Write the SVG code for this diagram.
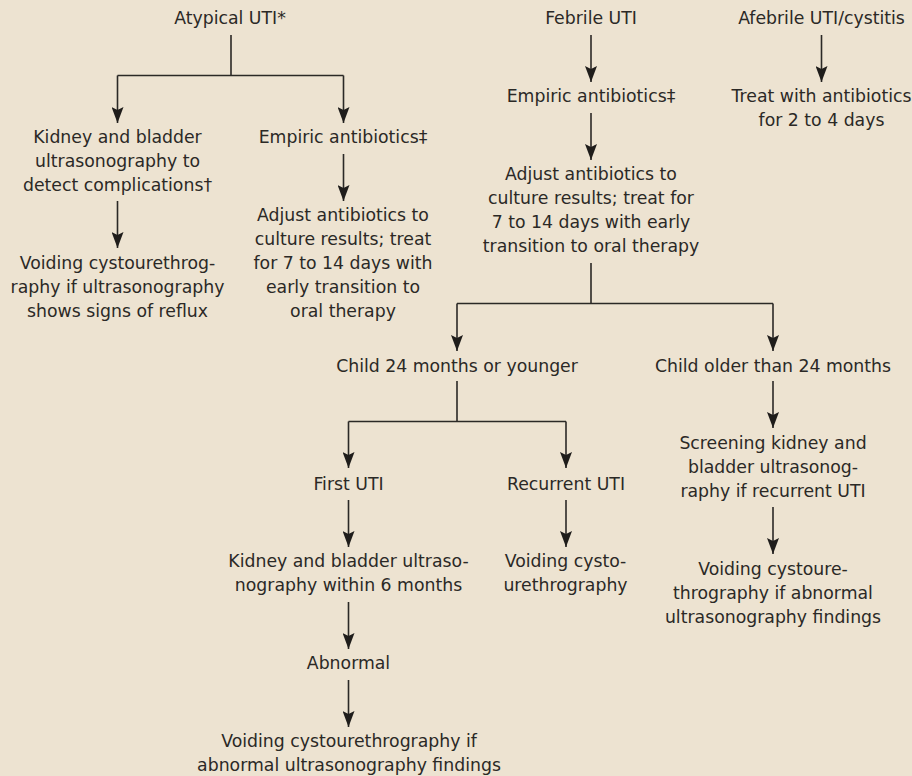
<svg xmlns="http://www.w3.org/2000/svg" width="912" height="776" viewBox="0 0 912 776">
<style>
text{font-family:"DejaVu Sans","Liberation Sans",sans-serif;font-size:17.3px;fill:#2b2926;text-anchor:middle}
.c{fill:none;stroke:#2b2926;stroke-width:1.6}
.a{marker-end:url(#ah)}
</style>
<defs>
<marker id="ah" viewBox="0 0 16 12" refX="16" refY="6" markerWidth="16" markerHeight="12" markerUnits="userSpaceOnUse" orient="auto">
<path d="M0,0 L16,6 L0,12 L3,6 Z" fill="#1f1d1b"/>
</marker>
</defs>
<rect width="912" height="776" fill="#ede3d1"/>
<g id="connectors">
<path class="c" d="M231,35 V75.5 M117.5,75.5 H343.5"/>
<path class="c a" d="M117.5,75.5 V123"/>
<path class="c a" d="M343.5,75.5 V123"/>
<path class="c a" d="M117.5,201 V248"/>
<path class="c a" d="M343.5,154 V201"/>
<path class="c a" d="M591,35 V82"/>
<path class="c a" d="M591,113 V160"/>
<path class="c" d="M591,263 V303.5 M457,303.5 H773"/>
<path class="c a" d="M457,303.5 V351"/>
<path class="c a" d="M773,303.5 V351"/>
<path class="c a" d="M821.5,35 V82"/>
<path class="c" d="M457,381 V421.5 M348.5,421.5 H566"/>
<path class="c a" d="M348.5,421.5 V468"/>
<path class="c a" d="M566,421.5 V468"/>
<path class="c a" d="M348.5,500 V547"/>
<path class="c a" d="M348.5,602 V649"/>
<path class="c a" d="M348.5,680 V727"/>
<path class="c a" d="M566,500 V547"/>
<path class="c a" d="M773,381 V428"/>
<path class="c a" d="M773,507 V554"/>
</g>
<g id="atypical"><text x="230" y="24">Atypical UTI*</text></g>
<g id="kidney-bladder-us"><text x="117.5" y="143">Kidney and bladder</text><text x="117.5" y="167">ultrasonography to</text><text x="117.5" y="191">detect complications†</text></g>
<g id="vcug-reflux"><text x="117.5" y="269">Voiding cystourethrog-</text><text x="117.5" y="293">raphy if ultrasonography</text><text x="117.5" y="317">shows signs of reflux</text></g>
<g id="empiric-1"><text x="343" y="143">Empiric antibiotics‡</text></g>
<g id="adjust-1"><text x="343" y="221">Adjust antibiotics to</text><text x="343" y="245">culture results; treat</text><text x="343" y="269">for 7 to 14 days with</text><text x="343" y="293">early transition to</text><text x="343" y="317">oral therapy</text></g>
<g id="febrile"><text x="591" y="24">Febrile UTI</text></g>
<g id="empiric-2"><text x="591" y="102">Empiric antibiotics‡</text></g>
<g id="adjust-2"><text x="591" y="180">Adjust antibiotics to</text><text x="591" y="204">culture results; treat for</text><text x="591" y="228">7 to 14 days with early</text><text x="591" y="252">transition to oral therapy</text></g>
<g id="afebrile"><text x="821.5" y="24">Afebrile UTI/cystitis</text></g>
<g id="treat-2-4"><text x="821.5" y="102">Treat with antibiotics</text><text x="821.5" y="126">for 2 to 4 days</text></g>
<g id="child-younger"><text x="457" y="372">Child 24 months or younger</text></g>
<g id="child-older"><text x="773" y="372">Child older than 24 months</text></g>
<g id="first-uti"><text x="348.5" y="490">First UTI</text></g>
<g id="recurrent-uti"><text x="566" y="490">Recurrent UTI</text></g>
<g id="kbus-6mo"><text x="348.5" y="567">Kidney and bladder ultraso-</text><text x="348.5" y="591">nography within 6 months</text></g>
<g id="vcug-recurrent"><text x="565.5" y="567">Voiding cysto-</text><text x="565.5" y="591">urethrography</text></g>
<g id="abnormal"><text x="348.5" y="669">Abnormal</text></g>
<g id="vcug-abnormal"><text x="349" y="747">Voiding cystourethrography if</text><text x="349" y="771">abnormal ultrasonography findings</text></g>
<g id="screening"><text x="773" y="449">Screening kidney and</text><text x="773" y="473">bladder ultrasonog-</text><text x="773" y="497">raphy if recurrent UTI</text></g>
<g id="vcug-older"><text x="773" y="575">Voiding cystoure-</text><text x="773" y="599">throgra­phy if abnormal</text><text x="773" y="623">ultrasonography findings</text></g>
</svg>
